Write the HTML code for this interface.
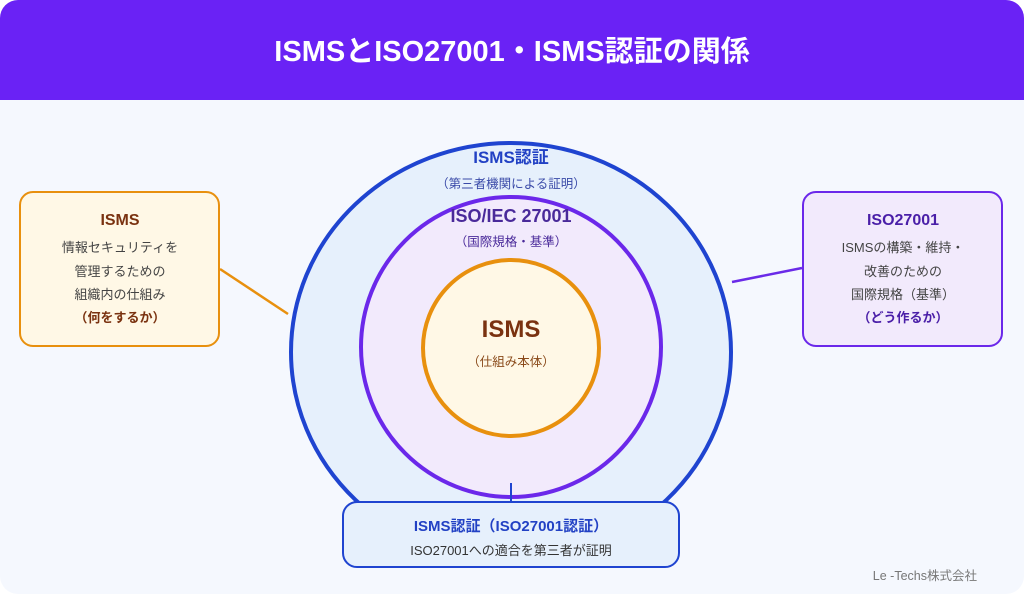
<!DOCTYPE html>
<html><head><meta charset="utf-8"><style>
html,body{margin:0;padding:0;width:1024px;height:594px;overflow:hidden;background:#fff}
svg{display:block}
text{font-family:"Liberation Sans","Noto Sans CJK JP",sans-serif}
</style></head><body>
<svg width="1024" height="594" viewBox="0 0 1024 594">
<rect x="0" y="0" width="1024" height="594" rx="18" fill="#f5f8fe"/>
<path d="M0,100 V18 A18,18 0 0 1 18,0 H1006 A18,18 0 0 1 1024,18 V100 Z" fill="#6a22f5"/>
<text x="512" y="61" text-anchor="middle" font-size="29" font-weight="bold" fill="#fff">ISMSとISO27001・ISMS認証の関係</text>

<line x1="220" y1="269" x2="288" y2="314" stroke="#e8900e" stroke-width="2.5"/>
<line x1="802" y1="268" x2="732" y2="282" stroke="#6a2ae8" stroke-width="2.5"/>

<ellipse cx="511" cy="352" rx="220" ry="209" fill="#e6f0fc" stroke="#1f44d0" stroke-width="4"/>
<circle cx="511" cy="347" r="150" fill="#f2eafc" stroke="#6b28ea" stroke-width="4"/>
<circle cx="511" cy="348" r="88" fill="#fff8e6" stroke="#e8900e" stroke-width="4"/>
<line x1="511" y1="483" x2="511" y2="503" stroke="#1f44d0" stroke-width="2"/>

<text x="511" y="163" text-anchor="middle" font-size="17" font-weight="bold" fill="#2241c4">ISMS認証</text>
<text x="511" y="188" text-anchor="middle" font-size="12.5" fill="#3a4aa8">（第三者機関による証明）</text>
<text x="511" y="222" text-anchor="middle" font-size="18" font-weight="bold" fill="#4a2a9a">ISO/IEC 27001</text>
<text x="511" y="246" text-anchor="middle" font-size="12.5" fill="#4a2a9a">（国際規格・基準）</text>
<text x="511" y="337" text-anchor="middle" font-size="24" font-weight="bold" fill="#7a3210">ISMS</text>
<text x="511" y="366" text-anchor="middle" font-size="12.5" fill="#8a4a1a">（仕組み本体）</text>

<rect x="20" y="192" width="199" height="154" rx="13" fill="#fff8e6" stroke="#e8900e" stroke-width="2"/>
<text x="120" y="225" text-anchor="middle" font-size="16" font-weight="bold" fill="#7a3210">ISMS</text>
<g font-size="13" fill="#444" text-anchor="middle">
<text x="120" y="252">情報セキュリティを</text>
<text x="120" y="276">管理するための</text>
<text x="120" y="299">組織内の仕組み</text>
</g>
<text x="120" y="322" text-anchor="middle" font-size="13" font-weight="bold" fill="#7a3210">（何をするか）</text>

<rect x="803" y="192" width="199" height="154" rx="13" fill="#f2eafc" stroke="#6b28ea" stroke-width="2"/>
<text x="903" y="225" text-anchor="middle" font-size="16" font-weight="bold" fill="#4a1fa8">ISO27001</text>
<g font-size="13" fill="#444" text-anchor="middle">
<text x="903" y="252">ISMSの構築・維持・</text>
<text x="903" y="276">改善のための</text>
<text x="903" y="299">国際規格（基準）</text>
</g>
<text x="903" y="322" text-anchor="middle" font-size="13" font-weight="bold" fill="#4a1fa8">（どう作るか）</text>

<rect x="343" y="502" width="336" height="65" rx="14" fill="#e6f0fc" stroke="#1f44d0" stroke-width="2"/>
<text x="511" y="531" text-anchor="middle" font-size="15" font-weight="bold" fill="#2241c4">ISMS認証（ISO27001認証）</text>
<text x="511" y="555" text-anchor="middle" font-size="13" fill="#333">ISO27001への適合を第三者が証明</text>

<text x="977" y="580" text-anchor="end" font-size="12.5" fill="#777">Le -Techs株式会社</text>
</svg>
</body></html>
